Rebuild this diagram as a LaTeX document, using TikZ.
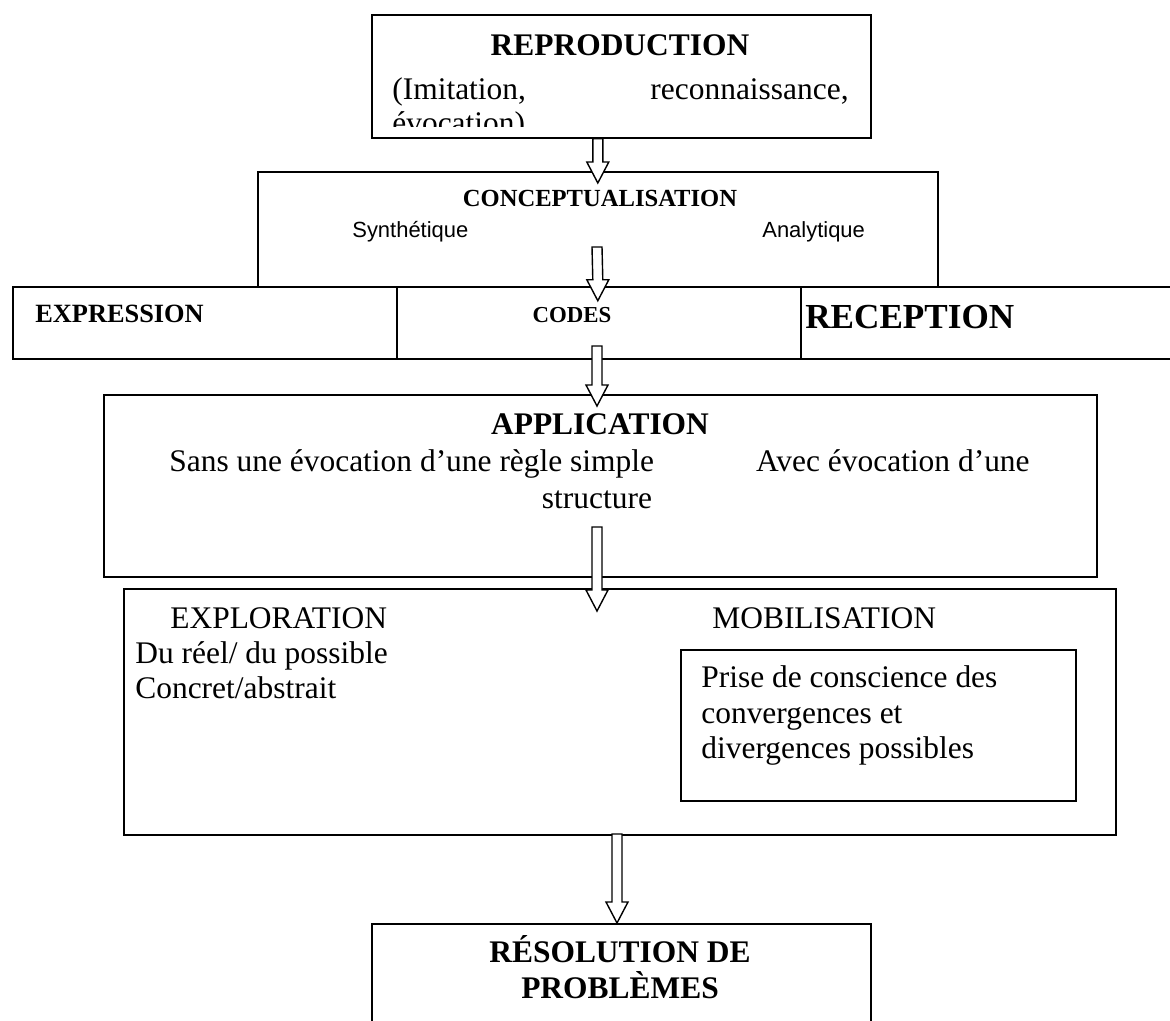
\documentclass[tikz,border=0pt]{standalone}
\usepackage{fontspec}
\setmainfont{Liberation Serif}
\newfontfamily\arialfont{Liberation Sans}
\usetikzlibrary{positioning,calc}
\tikzset{
	%Define style for boxes
	cadre/.style={
		rectangle,
		draw=black, line width=1pt,
		inner sep=0pt,
		anchor=north west},
	%Define styles for texts
	titre/.style={font=\bfseries\fontsize{17.9}{20.5}\selectfont, inner sep=0pt, anchor=base},
	texte/.style={font=\fontsize{17.9}{20.5}\selectfont, inner sep=0pt, anchor=base west},
	petit/.style={font=\arialfont\fontsize{12.5}{14}\selectfont, inner sep=0pt, anchor=base west},
	% Define block arrow style
	fleche/.style={draw=black, line width=0.8pt, fill=white, line join=miter}
}
% hollow block arrow from #1 down to tip #2
\newcommand{\flechebloc}[2]{%
	\draw[fleche] ($(#1)+(-5,0)$) -- ($(#2)+(-5,-21)$) -- ($(#2)+(-11,-21)$) -- (#2)
		-- ($(#2)+(11,-21)$) -- ($(#2)+(5,-21)$) -- ($(#1)+(5,0)$) -- cycle;}

\begin{document}
\begin{tikzpicture}[x=0.02cm, y=-0.02cm]
	\useasboundingbox (0,0) rectangle (1170,1021);
	
	% boxes
	\node[cadre, minimum width=9.98cm, minimum height=2.46cm] (repro) at (371,14) {};
	\node[cadre, minimum width=13.6cm, minimum height=2.3cm] (concept) at (257,171) {};
	\node[cadre, minimum width=7.68cm, minimum height=1.44cm] (expr) at (12,286) {};
	\node[cadre, minimum width=8.08cm, minimum height=1.44cm] (codes) at (396,286) {};
	\node[cadre, minimum width=7.44cm, minimum height=1.44cm] (recep) at (800,286) {};
	\node[cadre, minimum width=19.86cm, minimum height=3.64cm] (appl) at (103,394) {};
	\node[cadre, minimum width=19.84cm, minimum height=4.92cm] (explo) at (123,588) {};
	\node[cadre, minimum width=7.9cm, minimum height=3.02cm] (prise) at (680,649) {};
	\node[cadre, minimum width=9.98cm, minimum height=2.4cm] (resol) at (371,923) {};
	
	% reproduction
	\node[titre] (trepro) at (620,55) {REPRODUCTION};
	\node[texte] (imit) at (392,99) {(Imitation,};
	\node[texte, anchor=base east] (recon) at (849,99) {reconnaissance,};
	\begin{scope}
		\clip (371,14) rectangle (870,126);
		\node[texte] (evoc) at (392,133) {évocation)};
	\end{scope}
	
	% conceptualisation
	\node[titre, font=\bfseries\fontsize{14}{16}\selectfont] (tconcept) at (600,206) {CONCEPTUALISATION};
	\node[petit] (synth) at (352,237) {Synthétique};
	\node[petit] (analy) at (762,237) {Analytique};
	
	% row of three boxes
	\node[titre, anchor=base west, font=\bfseries\fontsize{15}{17}\selectfont] (texpr) at (35,322) {EXPRESSION};
	\node[titre, font=\bfseries\fontsize{13}{15}\selectfont] (tcodes) at (572,322) {CODES};
	\node[titre, anchor=base west, font=\bfseries\fontsize{20}{23}\selectfont] (trecep) at (805,328) {RECEPTION};
	
	% application
	\node[titre] (tappl) at (600,434) {APPLICATION};
	\node[texte] (sans) at (169,471) {Sans une évocation d’une règle simple};
	\node[texte, anchor=base east] (avec) at (1030,471) {Avec évocation d’une};
	\node[texte, anchor=base] (struct) at (597,508) {structure};
	
	% exploration / mobilisation
	\node[texte] (texplo) at (170,628) {EXPLORATION};
	\node[texte] (reel) at (135,663) {Du réel/ du possible};
	\node[texte] (concret) at (135,698) {Concret/abstrait};
	\node[texte] (tmobil) at (712,628) {MOBILISATION};
	\node[texte] (p1) at (701,687) {Prise de conscience des};
	\node[texte] (p2) at (701,723) {convergences et};
	\node[texte] (p3) at (701,758) {divergences possibles};
	
	% resolution
	\node[titre] (tresol1) at (620,962) {RÉSOLUTION DE};
	\node[titre] (tresol2) at (620,998) {PROBLÈMES};
	
	% arrows
	\coordinate (d1) at (concept.north |- repro.south);
	\coordinate (f1) at ($(concept.north)+(0,12)$);
	\coordinate (d2) at (597,247);
	\coordinate (f2) at ($(concept.south)+(0,13)$);
	\coordinate (d3) at (597,346);
	\coordinate (f3) at (597,406);
	\coordinate (d4) at (597,527);
	\coordinate (f4) at (597,611);
	\coordinate (d5) at (617,834);
	\coordinate (f5) at (617,923);
	\flechebloc{d1}{f1}
	\flechebloc{d2}{f2}
	\flechebloc{d3}{f3}
	\flechebloc{d4}{f4}
	\flechebloc{d5}{f5}
	
\end{tikzpicture}
\end{document}
